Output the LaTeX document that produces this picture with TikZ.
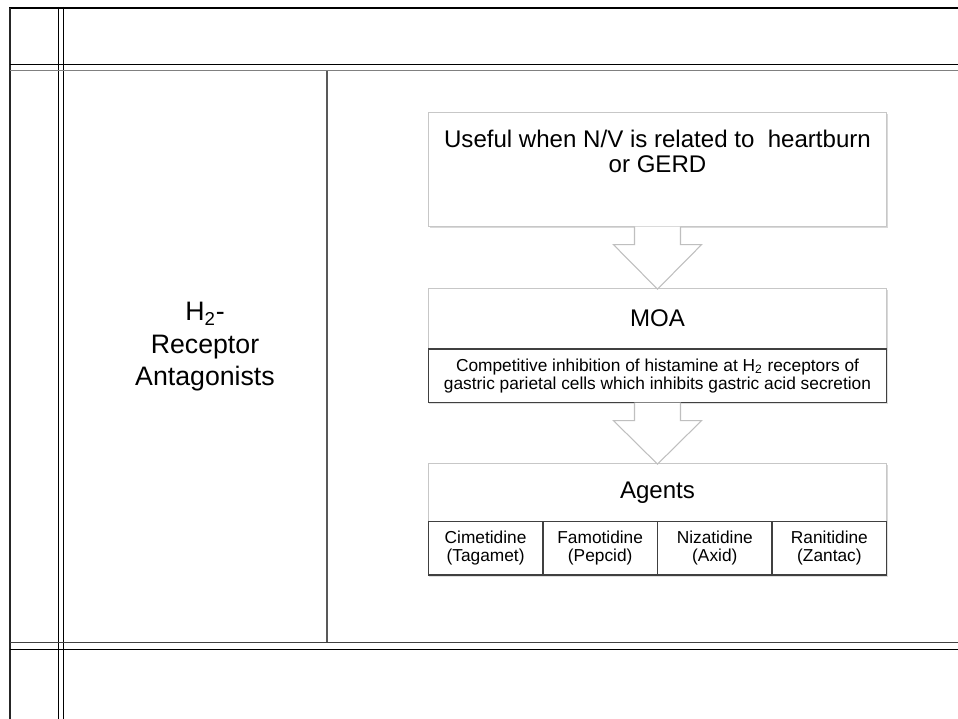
\documentclass[tikz,border=0pt]{standalone}
\usepackage{fontspec}
\setmainfont{Liberation Sans}
\usetikzlibrary{positioning, calc, shadows}

\begin{document}
\begin{tikzpicture}[
    x=0.02cm, y=-0.02cm,
    every node/.style={inner sep=0pt, outer sep=0pt},
    ruleline/.style={line width=0.6pt},
    panel/.style={draw=black!22, fill=white, minimum width=9.17cm,
                  drop shadow={shadow xshift=0.7pt, shadow yshift=-0.9pt, opacity=0.3}},
    cell/.style={draw=black!75, line width=0.8pt, fill=white, minimum height=1.07cm,
                 align=center, font=\fontsize{9.85}{10.3}\selectfont,
                 drop shadow={shadow xshift=0.5pt, shadow yshift=-0.8pt, opacity=0.25}},
    bigtext/.style={font=\fontsize{13.7}{14.2}\selectfont, align=center},
    blockarr/.style={draw=black!25, fill=white, line width=0.6pt},
]
\useasboundingbox (0,0) rectangle (958,719);

% table rules
\draw[line width=1.1pt] (9,8) -- (958,8);
\draw[line width=1.1pt, black!85] (10.3,8) -- (10.3,719);
\draw[ruleline] (58.5,7) -- (58.5,719);
\draw[ruleline] (63.2,7) -- (63.2,719);
\draw[ruleline] (10,64.5) -- (958,64.5);
\draw[black!50, line width=0.9pt] (10,70.7) -- (958,70.7);
\draw[ruleline, black!65] (327,70.7) -- (327,642.7);
\draw[ruleline, black!75] (10,642.7) -- (958,642.7);
\draw[ruleline] (10,649.3) -- (958,649.3);

% left cell
\node[font=\fontsize{15.2}{18.5}\selectfont, align=center] (h2ra) at (205,347)
    {H\textsubscript{2}-\\Receptor\\Antagonists};

% flow
\node[panel, minimum height=2.28cm] (useful) at (657.5,169.7) {};
\node[bigtext, below=0.34cm of useful.north] (usefultxt)
    {Useful when N/V is related to~ heartburn\\or GERD};

\node[panel, bigtext, minimum height=1.22cm, below=1.23cm of useful] (moatop) {MOA};
\node[cell, minimum width=9.17cm, below=0pt of moatop] (moadesc)
    {Competitive inhibition of histamine at H\textsubscript{2} receptors of\\
     gastric parietal cells which inhibits gastric acid secretion};

\node[panel, bigtext, minimum height=1.17cm, below=1.21cm of moadesc] (agentstop) {Agents};
\node[cell, minimum width=2.2925cm, anchor=north west] (cime) at (agentstop.south west)
    {Cimetidine\\(Tagamet)};
\node[cell, minimum width=2.2925cm, right=0pt of cime] (famo) {Famotidine\\(Pepcid)};
\node[cell, minimum width=2.2925cm, right=0pt of famo] (niza) {Nizatidine\\(Axid)};
\node[cell, minimum width=2.2925cm, right=0pt of niza] (rani) {Ranitidine\\(Zantac)};

% block arrows
\draw[blockarr] ($(useful.south)+(-23,0)$) -- ++(0,18) -- ++(-21,0)
    -- ($(moatop.north)+(0,1)$) -- ($(useful.south)+(44,18)$) -- ++(-21,0) -- ++(0,-18);
\draw[blockarr] ($(moadesc.south)+(-23,0)$) -- ++(0,18) -- ++(-21,0)
    -- ($(agentstop.north)+(0,1)$) -- ($(moadesc.south)+(44,18)$) -- ++(-21,0) -- ++(0,-18);
\end{tikzpicture}
\end{document}
